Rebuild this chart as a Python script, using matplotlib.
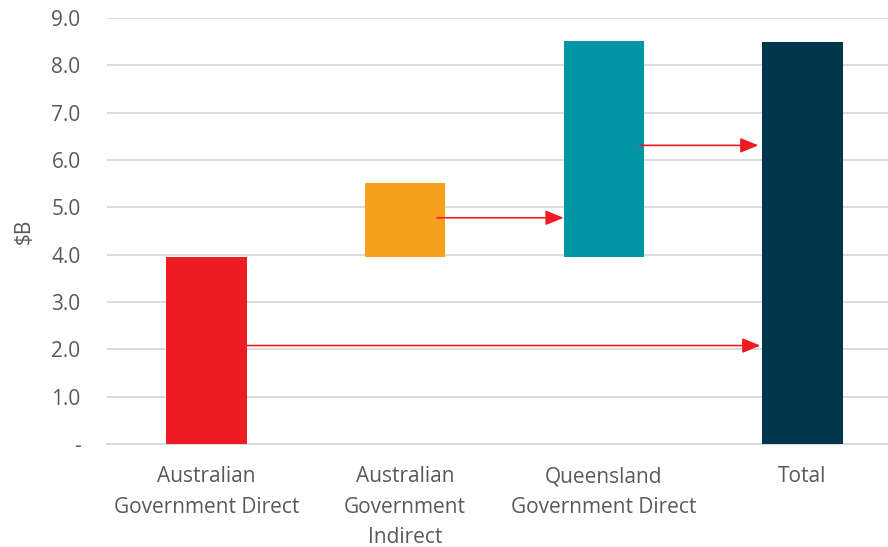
import matplotlib
matplotlib.use("Agg")
import matplotlib.pyplot as plt
from matplotlib.ticker import FixedLocator, FuncFormatter

categories = ["Australian\nGovernment Direct", "Australian\nGovernment\nIndirect",
              "Queensland\nGovernment Direct", "Total"]
bar_bottoms = [0.0, 3.95, 3.95, 0.0]
bar_tops = [3.95, 5.51, 8.51, 8.49]
colors = ["#ED1C24", "#F7A01E", "#0096A6", "#00354C"]
arrow_levels = [2.08, 4.78, 6.31]
yticks = [0, 1, 2, 3, 4, 5, 6, 7, 8, 9]

plt.rcParams['font.family'] = ['Open Sans', 'DejaVu Sans']
fig = plt.figure(figsize=(8.88, 5.47), dpi=100)
ax = fig.add_axes([0.1205, 0.1883, 0.8795, 0.7787])

width = 0.404
x = list(range(len(categories)))
heights = [t - b for t, b in zip(bar_tops, bar_bottoms)]
ax.bar(x, heights, bottom=bar_bottoms, width=width, color=colors, zorder=3)

ax.set_ylim(0, 9)
ax.set_xlim(-0.5, 3.43)
ax.yaxis.set_major_locator(FixedLocator(yticks))
ax.yaxis.set_major_formatter(FuncFormatter(lambda v, p: "-" if v == 0 else f"{v:.1f}"))
ax.grid(axis='y', color='#D9D9D9', linewidth=1.3, zorder=0)
for s in ['top', 'right', 'left']:
    ax.spines[s].set_visible(False)
ax.spines['bottom'].set_color('#D9D9D9')
ax.spines['bottom'].set_linewidth(1.3)
ax.tick_params(axis='both', length=0, labelsize=15, colors='#595959')
ax.tick_params(axis='y', pad=19)
ax.tick_params(axis='x', pad=16)
ax.set_xticks(x)
ax.set_xticklabels(categories, linespacing=1.6)
ax.set_ylabel("$B", fontsize=15, color='#595959', labelpad=12)

half = width / 2
arrows = [
    (x[0] + half, x[3] - half - 0.01, arrow_levels[0]),
    (x[1] + 0.16, x[2] - half, arrow_levels[1]),
    (x[2] + half - 0.02, x[3] - half - 0.02, arrow_levels[2]),
]
for x0, x1, yv in arrows:
    ax.annotate("", xy=(x1, yv), xytext=(x0, yv),
                arrowprops=dict(arrowstyle='-|>,head_length=1.1,head_width=0.45',
                                color='#ED1C24', lw=1.2, shrinkA=0, shrinkB=0),
                zorder=4)

fig.savefig("out.png", dpi=100)
